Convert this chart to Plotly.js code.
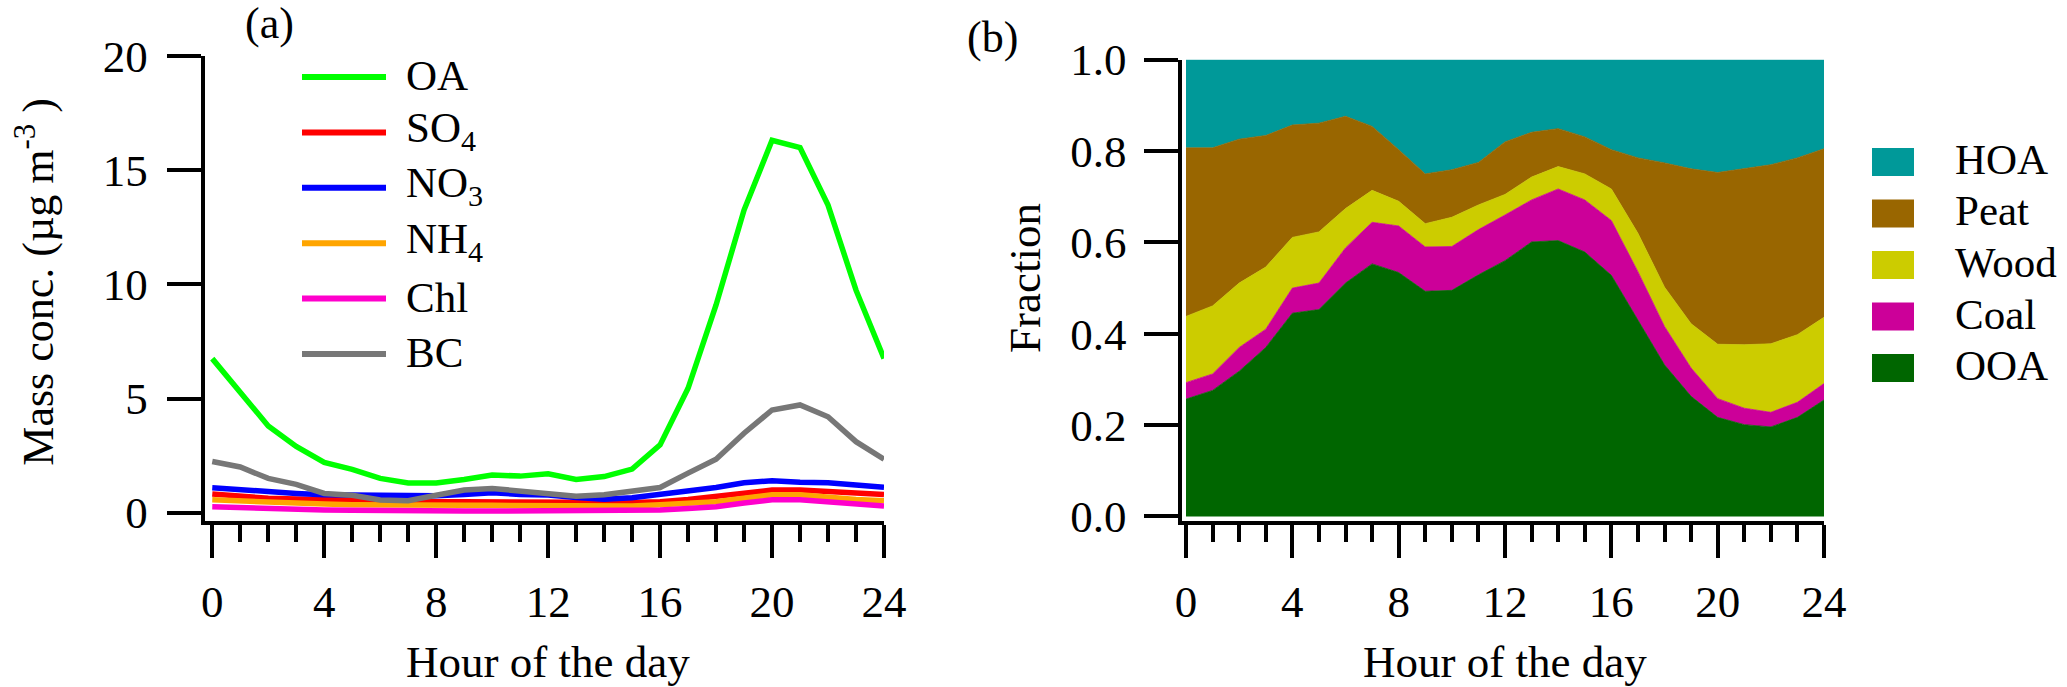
<!DOCTYPE html>
<html><head><meta charset="utf-8">
<script src="https://cdn.plot.ly/plotly-3.0.1.min.js"></script>
<style>html,body{margin:0;padding:0;background:#fff}#chart{width:2067px;height:687px}</style>
</head><body><div id="chart"></div>
<script>
// ---------- data ----------
const hours = [0,1,2,3,4,5,6,7,8,9,10,11,12,13,14,15,16,17,18,19,20,21,22,23,24];

const speciesNames = ['OA','SO<sub>4</sub>','NO<sub>3</sub>','NH<sub>4</sub>','Chl','BC'];
const OA  = [6.75,5.3,3.8,2.9,2.2,1.9,1.5,1.3,1.3,1.45,1.65,1.6,1.7,1.45,1.58,1.91,2.97,5.45,9.1,13.26,16.32,16.0,13.48,9.75,6.76];
const SO4 = [0.82,0.72,0.63,0.6,0.57,0.53,0.49,0.48,0.48,0.48,0.48,0.47,0.47,0.45,0.41,0.43,0.48,0.58,0.7,0.85,0.99,0.99,0.92,0.85,0.8];
const NO3 = [1.09,1.0,0.88,0.84,0.78,0.76,0.74,0.74,0.74,0.8,0.87,0.8,0.77,0.66,0.59,0.65,0.78,0.93,1.1,1.31,1.4,1.33,1.31,1.21,1.11];
const NH4 = [0.56,0.5,0.44,0.41,0.38,0.35,0.33,0.32,0.32,0.32,0.32,0.31,0.31,0.29,0.27,0.29,0.34,0.4,0.48,0.63,0.78,0.78,0.67,0.58,0.52];
const Chl = [0.26,0.21,0.17,0.14,0.12,0.1,0.08,0.07,0.07,0.07,0.07,0.07,0.07,0.07,0.08,0.09,0.12,0.18,0.26,0.42,0.56,0.56,0.48,0.37,0.29];
const BC  = [2.24,2.0,1.5,1.24,0.84,0.76,0.55,0.52,0.76,0.99,1.06,0.94,0.88,0.72,0.78,0.92,1.1,1.73,2.34,3.48,4.5,4.72,4.2,3.11,2.34];
const speciesColors = ['#00ff00','#ff0000','#0000ff','#ffa500','#ff00cc','#777777'];

const factorNames = ['HOA','Peat','Wood','Coal','OOA'];
const HOA  = [0.193,0.193,0.174,0.166,0.143,0.139,0.124,0.146,0.197,0.250,0.241,0.225,0.180,0.159,0.151,0.169,0.197,0.215,0.226,0.239,0.247,0.239,0.230,0.215,0.195];
const Peat = [0.369,0.346,0.315,0.288,0.246,0.238,0.202,0.140,0.113,0.109,0.104,0.093,0.115,0.098,0.083,0.081,0.086,0.165,0.272,0.339,0.376,0.385,0.392,0.387,0.369];
const Wood = [0.145,0.149,0.141,0.136,0.111,0.112,0.086,0.070,0.054,0.051,0.064,0.054,0.045,0.050,0.049,0.057,0.069,0.084,0.086,0.097,0.119,0.139,0.150,0.148,0.145];
const Coal = [0.036,0.036,0.052,0.040,0.055,0.058,0.077,0.091,0.102,0.097,0.096,0.099,0.100,0.092,0.113,0.114,0.120,0.105,0.084,0.062,0.041,0.036,0.032,0.033,0.036];
const OOA  = [0.257,0.276,0.318,0.370,0.445,0.453,0.511,0.553,0.534,0.493,0.495,0.529,0.560,0.601,0.604,0.579,0.528,0.431,0.332,0.263,0.217,0.201,0.196,0.217,0.255];
const factorColors = ['#009999','#996600','#cccc00','#cc0099','#006600'];

const xTitle = 'Hour of the day';
const yTitleA = 'Mass conc. (µg m<sup>-3</sup> )';
const yTitleB = 'Fraction';
const panelLabels = ['(a)', '(b)'];

// ---------- build ----------
const W = 2067, H = 687;
const px = x => x / W;
const py = y => 1 - y / H;
const FONT = 'Liberation Serif, Times New Roman, serif';

const speciesSeries = [OA, SO4, NO3, NH4, Chl, BC];
const traces = [];
speciesSeries.forEach((s, i) => {
  traces.push({x: hours, y: s, type: 'scatter', mode: 'lines', name: speciesNames[i],
    line: {color: speciesColors[i], width: 5.5}, xaxis: 'x', yaxis: 'y', showlegend: false});
});
const factorSeries = [HOA, Peat, Wood, Coal, OOA];
// stacked from the bottom: OOA, Coal, Wood, Peat, HOA
for (let i = factorSeries.length - 1; i >= 0; i--) {
  traces.push({x: hours, y: factorSeries[i], type: 'scatter', mode: 'lines', name: factorNames[i],
    stackgroup: 'pmf', fillcolor: factorColors[i], line: {color: factorColors[i], width: 0.8},
    xaxis: 'x2', yaxis: 'y2', showlegend: false});
}

const shapes = [], annotations = [];
const legFont = {family: FONT, size: 43, color: '#000'};
// legend of panel (a)
speciesNames.forEach((n, i) => {
  const y = 77 + 55.4 * i;
  shapes.push({type: 'line', xref: 'paper', yref: 'paper', x0: px(302), x1: px(386), y0: py(y), y1: py(y),
    line: {color: speciesColors[i], width: 6}});
  annotations.push({xref: 'paper', yref: 'paper', x: px(404), y: py(y - 1.5), xanchor: 'left', yanchor: 'middle',
    text: n, showarrow: false, font: legFont});
});
// legend of panel (b)
factorNames.forEach((n, i) => {
  const y = 162 + 51.5 * i;
  shapes.push({type: 'rect', xref: 'paper', yref: 'paper', x0: px(1872), x1: px(1914), y0: py(y - 14), y1: py(y + 14),
    fillcolor: factorColors[i], line: {width: 0}});
  annotations.push({xref: 'paper', yref: 'paper', x: px(1953), y: py(y - 2.5), xanchor: 'left', yanchor: 'middle',
    text: n, showarrow: false, font: legFont});
});
const titleFont = {family: FONT, size: 45, color: '#000'};
annotations.push({xref: 'paper', yref: 'paper', x: px(269), y: py(23), xanchor: 'center', yanchor: 'middle',
  text: panelLabels[0], showarrow: false, font: {family: FONT, size: 44, color: '#000'}});
annotations.push({xref: 'paper', yref: 'paper', x: px(992), y: py(38), xanchor: 'center', yanchor: 'middle',
  text: panelLabels[1], showarrow: false, font: {family: FONT, size: 44, color: '#000'}});
// axis titles
annotations.push({xref: 'paper', yref: 'paper', x: px(548), y: py(661.5), xanchor: 'center', yanchor: 'middle',
  text: xTitle, showarrow: false, font: titleFont});
annotations.push({xref: 'paper', yref: 'paper', x: px(1505), y: py(661.5), xanchor: 'center', yanchor: 'middle',
  text: xTitle, showarrow: false, font: titleFont});
annotations.push({xref: 'paper', yref: 'paper', x: px(34.7), y: py(282), xanchor: 'center', yanchor: 'middle',
  text: yTitleA, textangle: -90, showarrow: false, font: {family: FONT, size: 44, color: '#000'}});
annotations.push({xref: 'paper', yref: 'paper', x: px(1025), y: py(278), xanchor: 'center', yanchor: 'middle',
  text: yTitleB, textangle: -90, showarrow: false, font: titleFont});

const tickfont = {family: FONT, size: 45, color: '#000'};
const xCommon = {
  showgrid: false, zeroline: false, showline: true, linecolor: '#000', linewidth: 4,
  ticks: 'outside', ticklen: 33, tickwidth: 4, tickcolor: '#000', tick0: 0, dtick: 4,
  minor: {dtick: 1, tick0: 0, ticks: 'outside', ticklen: 17, tickwidth: 4, tickcolor: '#000', showgrid: false},
  tickfont: tickfont, ticklabelstandoff: 5, automargin: false, fixedrange: true
};
const yCommon = {
  showgrid: false, zeroline: false, showline: true, linecolor: '#000', linewidth: 4,
  ticks: 'outside', ticklen: 34, tickwidth: 4, tickcolor: '#000',
  tickfont: tickfont, automargin: false, fixedrange: true
};

const layout = {
  width: W, height: H, margin: {l: 0, r: 0, t: 0, b: 0},
  paper_bgcolor: '#fff', plot_bgcolor: 'rgba(0,0,0,0)', showlegend: false,
  font: {family: FONT, color: '#000'},
  xaxis: Object.assign({}, xCommon, {domain: [px(204.7), px(884)], range: [-0.27, 24], anchor: 'y'}),
  yaxis: Object.assign({}, yCommon, {domain: [py(521.3), py(56.3)], range: [-0.38, 20], dtick: 5, tick0: 0,
    ticklabelstandoff: 10, anchor: 'x'}),
  xaxis2: Object.assign({}, xCommon, {domain: [px(1181.5), px(1824)], range: [-0.17, 24], anchor: 'y2'}),
  yaxis2: Object.assign({}, yCommon, {domain: [py(520.5), py(59.7)], range: [-0.0088, 1], dtick: 0.2, tick0: 0,
    tickformat: '.1f', ticklabelstandoff: 8, anchor: 'x2'}),
  shapes: shapes, annotations: annotations
};

Plotly.newPlot('chart', traces, layout, {displayModeBar: false, staticPlot: true});
</script>
</body></html>
